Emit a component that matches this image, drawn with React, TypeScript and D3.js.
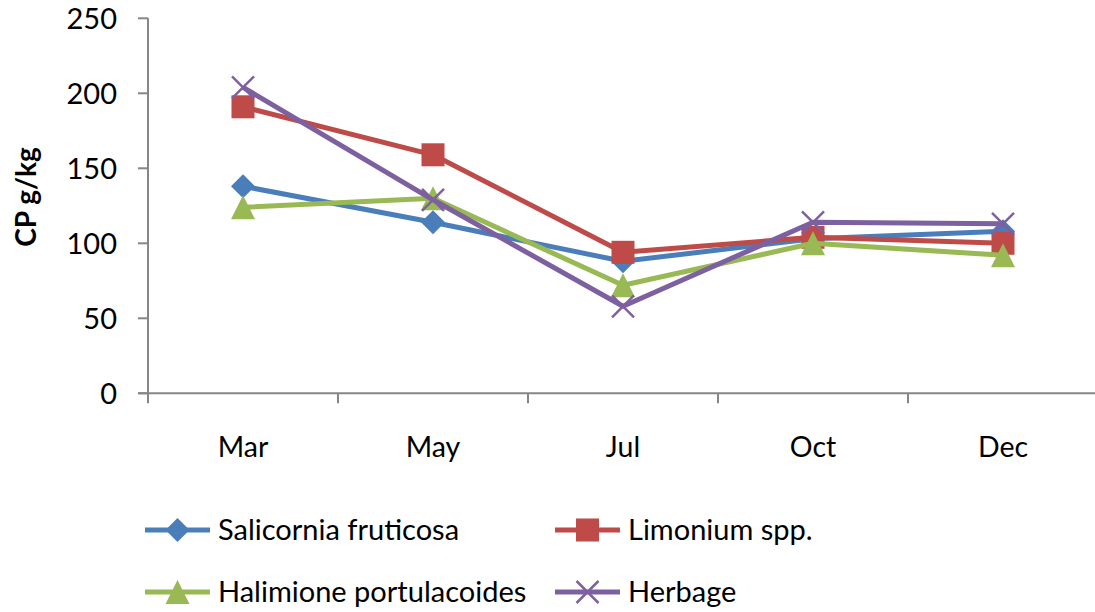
import React from "react";
import * as d3 from "d3";

const months = ["Mar", "May", "Jul", "Oct", "Dec"];
const yTicks = [0, 50, 100, 150, 200, 250];
const salicornia = [138, 114, 88, 103, 108];
const limonium = [191, 159, 94, 104, 100];
const halimione = [124, 130, 72, 100, 92];
const herbage = [204, 129, 58, 114, 113];

const seriesNames = ["Salicornia fruticosa", "Limonium spp.", "Halimione portulacoides", "Herbage"];
const seriesValues = [salicornia, limonium, halimione, herbage];
const seriesColors = ["#4A7EBB", "#BE4B48", "#98B954", "#7D60A0"];
const seriesMarkers = ["diamond", "square", "triangle", "x"];

const FONT = "Lato, 'Open Sans', sans-serif";

function Marker({ type, x, y, color }: { type: string; x: number; y: number; color: string }) {
  if (type === "diamond") {
    const s = 12;
    return <path d={`M${x},${y - s}L${x + s},${y}L${x},${y + s}L${x - s},${y}Z`} fill={color} />;
  }
  if (type === "square") {
    const s = 11.5;
    return <rect x={x - s} y={y - s} width={2 * s} height={2 * s} fill={color} />;
  }
  if (type === "triangle") {
    const s = 12;
    return <path d={`M${x},${y - s}L${x + s},${y + s}L${x - s},${y + s}Z`} fill={color} />;
  }
  const s = 11;
  return (
    <g stroke={color} strokeWidth={2.5}>
      <line x1={x - s} y1={y - s} x2={x + s} y2={y + s} />
      <line x1={x - s} y1={y + s} x2={x + s} y2={y - s} />
    </g>
  );
}

export default function App() {
  const left = 148;
  const right = 1098;
  const top = 18.3;
  const bottom = 393.3;
  const x = d3.scaleBand<string>().domain(months).range([left, right]);
  const y = d3.scaleLinear().domain([0, 250]).range([bottom, top]);
  const cx = (m: string) => (x(m) as number) + x.bandwidth() / 2;
  const line = d3
    .line<number>()
    .x((_, i) => cx(months[i]))
    .y((v) => y(v));
  const axisColor = "#868686";

  const legendItems = [
    { i: 0, lx: 145, ly: 530 },
    { i: 1, lx: 555, ly: 530 },
    { i: 2, lx: 145, ly: 592 },
    { i: 3, lx: 555, ly: 592 },
  ];

  return (
    <svg
      width={1095}
      height={612}
      style={{ position: "absolute", left: 0, top: 0, background: "#fff" }}
      fontFamily={FONT}
    >
      <rect x={0} y={0} width={1095} height={612} fill="#fff" />
      {/* y axis */}
      <line x1={left} y1={top} x2={left} y2={bottom} stroke={axisColor} strokeWidth={2} />
      {yTicks.map((t) => (
        <g key={t}>
          <line x1={left - 10} y1={y(t)} x2={left} y2={y(t)} stroke={axisColor} strokeWidth={2} />
          <text x={117} y={y(t)} dy="0.36em" textAnchor="end" fontSize={29} fill="#000">
            {t}
          </text>
        </g>
      ))}
      {/* x axis */}
      <line x1={left - 10} y1={bottom} x2={right} y2={bottom} stroke={axisColor} strokeWidth={2} />
      {[...months.map((m) => x(m) as number), right].map((px, i) => (
        <line key={i} x1={px} y1={bottom} x2={px} y2={bottom + 10} stroke={axisColor} strokeWidth={2} />
      ))}
      {months.map((m) => (
        <text key={m} x={cx(m)} y={457} textAnchor="middle" fontSize={28.5} fill="#000">
          {m}
        </text>
      ))}
      {/* y title */}
      <text
        transform={`translate(36,197) rotate(-90)`}
        textAnchor="middle"
        fontSize={28}
        fontWeight="bold"
        fill="#000"
      >
        CP g/kg
      </text>
      {/* series */}
      {seriesValues.map((vals, si) => (
        <g key={si}>
          <path d={line(vals) as string} fill="none" stroke={seriesColors[si]} strokeWidth={5} strokeLinejoin="round" />
          {vals.map((v, i) => (
            <Marker key={i} type={seriesMarkers[si]} x={cx(months[i])} y={y(v)} color={seriesColors[si]} />
          ))}
        </g>
      ))}
      {/* legend */}
      {legendItems.map(({ i, lx, ly }) => (
        <g key={i}>
          <line x1={lx} y1={ly} x2={lx + 65} y2={ly} stroke={seriesColors[i]} strokeWidth={5} />
          <Marker type={seriesMarkers[i]} x={lx + 32.5} y={ly} color={seriesColors[i]} />
          <text x={lx + 73} y={ly} dy="0.36em" fontSize={29} fill="#000">
            {seriesNames[i]}
          </text>
        </g>
      ))}
    </svg>
  );
}
